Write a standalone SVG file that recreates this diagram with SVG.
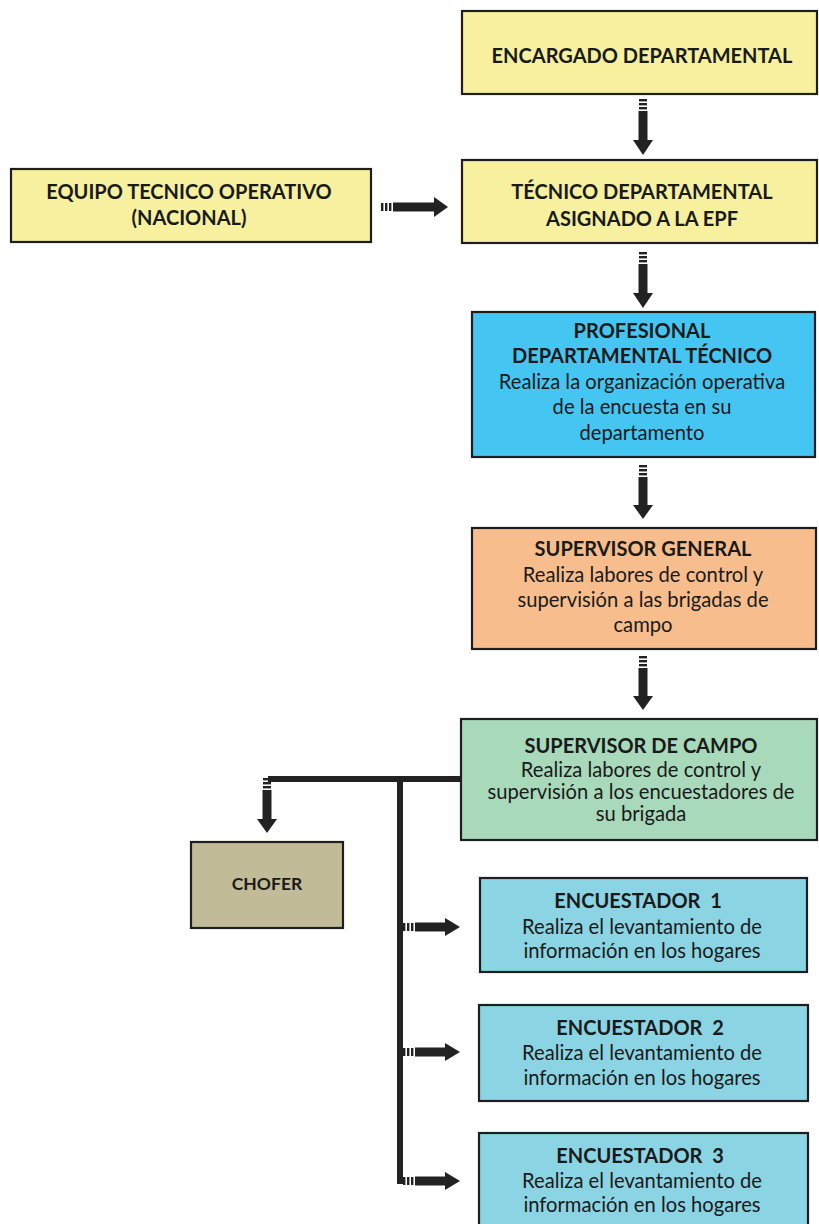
<svg xmlns="http://www.w3.org/2000/svg" width="819" height="1224" viewBox="0 0 819 1224">
<style>
.box{stroke:#1e1e1e;stroke-width:2.2}
.y{fill:#f6f09f}
.b{fill:#45c6f2}
.o{fill:#f8bd8d}
.g{fill:#a9d9bb}
.lb{fill:#8ad4e3}
.c{fill:#c2bb97}
text{font-family:Lato,"Open Sans","Liberation Sans",sans-serif;fill:#1a1a1a;text-anchor:middle}
.t{font-weight:bold;font-size:20px}
.d{font-size:20.2px}
.ar{fill:#222}
.ln{stroke:#222;stroke-width:6;fill:none}
</style>
<defs>
<g id="dstripes"><rect x="-4" y="0" width="8" height="2.4"/><rect x="-4" y="4" width="8" height="2.4"/><rect x="-4" y="8" width="8" height="2.4"/></g>
<g id="rstripes"><rect x="0" y="-4" width="2.4" height="8"/><rect x="4" y="-4" width="2.4" height="8"/><rect x="8" y="-4" width="2.4" height="8"/></g>
</defs>

<g id="connectors" class="ar">
  <g transform="translate(643,99)"><use href="#dstripes"/><rect x="-4.5" y="12" width="9" height="30"/><polygon points="-10,41 10,41 0,56"/></g>
  <g transform="translate(643,252)"><use href="#dstripes"/><rect x="-4.5" y="12" width="9" height="30"/><polygon points="-10,41 10,41 0,56"/></g>
  <g transform="translate(643,465)"><use href="#dstripes"/><rect x="-4.5" y="12" width="9" height="29"/><polygon points="-10,40 10,40 0,54"/></g>
  <g transform="translate(643,656)"><use href="#dstripes"/><rect x="-4.5" y="12" width="9" height="29"/><polygon points="-10,40 10,40 0,54"/></g>
  <g transform="translate(381,207)"><use href="#rstripes"/><rect x="12" y="-4.5" width="42" height="9"/><polygon points="53,-10 53,10 67,0"/></g>
  <path class="ln" d="M462,779 H268"/>
  <path class="ln" d="M400,779 V1184"/>
  <g transform="translate(267,778)"><use href="#dstripes"/><rect x="-4.5" y="12" width="9" height="30"/><polygon points="-10,41 10,41 0,55"/></g>
  <g transform="translate(403,927)"><use href="#rstripes"/><rect x="12" y="-4.5" width="31" height="9"/><polygon points="42,-9 42,9 57,0"/></g>
  <g transform="translate(403,1052)"><use href="#rstripes"/><rect x="12" y="-4.5" width="31" height="9"/><polygon points="42,-9 42,9 57,0"/></g>
  <g transform="translate(403,1181)"><use href="#rstripes"/><rect x="12" y="-4.5" width="31" height="9"/><polygon points="42,-9 42,9 57,0"/></g>
</g>

<g id="encargado">
  <rect class="box y" x="462" y="11" width="355" height="83"/>
  <text class="t" x="642" y="63">ENCARGADO DEPARTAMENTAL</text>
</g>
<g id="tecnico">
  <rect class="box y" x="462" y="160" width="355" height="83"/>
  <text class="t" x="642" y="199">TÉCNICO DEPARTAMENTAL</text>
  <text class="t" x="642" y="226">ASIGNADO A LA EPF</text>
</g>
<g id="equipo">
  <rect class="box y" x="11" y="169" width="360" height="73"/>
  <text class="t" x="189" y="199">EQUIPO TECNICO OPERATIVO</text>
  <text class="t" x="189" y="225">(NACIONAL)</text>
</g>
<g id="profesional">
  <rect class="box b" x="472" y="312" width="343" height="145"/>
  <text class="t" x="642" y="338">PROFESIONAL</text>
  <text class="t" x="642" y="363">DEPARTAMENTAL TÉCNICO</text>
  <text class="d" x="642" y="389">Realiza la organización operativa</text>
  <text class="d" x="642" y="414">de la encuesta en su</text>
  <text class="d" x="642" y="440">departamento</text>
</g>
<g id="supervisor-general">
  <rect class="box o" x="472" y="528" width="344" height="121"/>
  <text class="t" x="643" y="556">SUPERVISOR GENERAL</text>
  <text class="d" x="643" y="582">Realiza labores de control y</text>
  <text class="d" x="643" y="607">supervisión a las brigadas de</text>
  <text class="d" x="643" y="632">campo</text>
</g>
<g id="supervisor-campo">
  <rect class="box g" x="461" y="719" width="356" height="121"/>
  <text class="t" x="641" y="753">SUPERVISOR DE CAMPO</text>
  <text class="d" x="641" y="777">Realiza labores de control y</text>
  <text class="d" x="641" y="799">supervisión a los encuestadores de</text>
  <text class="d" x="641" y="821">su brigada</text>
</g>
<g id="chofer">
  <rect class="box c" x="191" y="842" width="152" height="86"/>
  <text class="t" x="267" y="890" style="font-size:17.5px">CHOFER</text>
</g>
<g id="encuestador-1">
  <rect class="box lb" x="480" y="878" width="327" height="94"/>
  <text class="t" x="638" y="908" xml:space="preserve">ENCUESTADOR  1</text>
  <text class="d" x="642" y="934">Realiza el levantamiento de</text>
  <text class="d" x="642" y="958">información en los hogares</text>
</g>
<g id="encuestador-2">
  <rect class="box lb" x="479" y="1005" width="329" height="96"/>
  <text class="t" x="640" y="1035" xml:space="preserve">ENCUESTADOR  2</text>
  <text class="d" x="642" y="1060">Realiza el levantamiento de</text>
  <text class="d" x="642" y="1085">información en los hogares</text>
</g>
<g id="encuestador-3">
  <rect class="box lb" x="479" y="1133" width="329" height="100"/>
  <text class="t" x="640" y="1163" xml:space="preserve">ENCUESTADOR  3</text>
  <text class="d" x="642" y="1188">Realiza el levantamiento de</text>
  <text class="d" x="642" y="1212">información en los hogares</text>
</g>
</svg>
